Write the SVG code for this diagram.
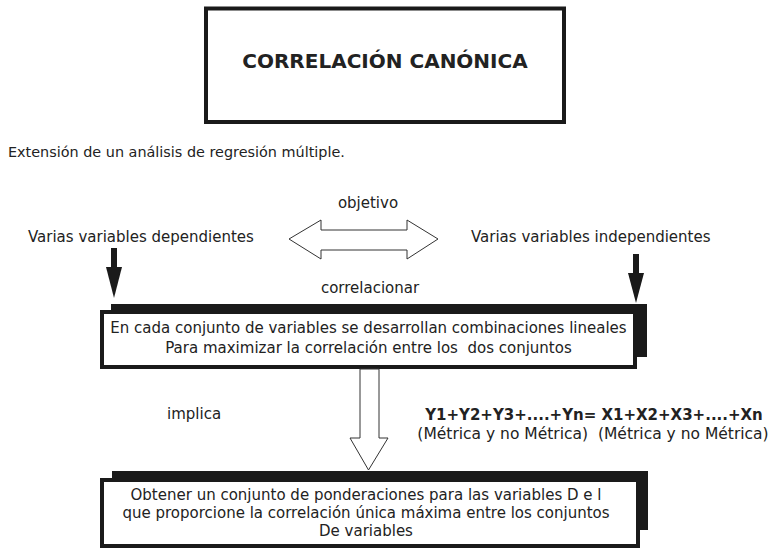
<svg xmlns="http://www.w3.org/2000/svg" width="770" height="549" viewBox="0 0 770 549">
<style>
text{font-family:"DejaVu Sans",Verdana,sans-serif;font-size:15px;fill:#222}
.b{font-weight:bold}
.m{text-anchor:middle}
.frame{fill:#fff;stroke:#1a1a1a;stroke-width:4}
.shadow{fill:#1a1a1a}
.hollow{fill:#fff;stroke:#333;stroke-width:1}
.solid{fill:#1a1a1a}
</style>
<rect width="770" height="549" fill="#fff"/>
<g id="title">
<rect class="frame" x="206" y="8.5" width="358" height="113.5"/>
<text class="b m" x="385" y="68" style="font-size:20px">CORRELACIÓN CANÓNICA</text>
</g>
<g id="intro">
<text x="8" y="157" style="font-size:14.4px">Extensión de un análisis de regresión múltiple.</text>
</g>
<g id="dependientes">
<text x="28" y="242">Varias variables dependientes</text>
</g>
<g id="independientes">
<text x="471" y="242">Varias variables independientes</text>
</g>
<g id="combinaciones">
<rect class="shadow" x="111" y="304" width="536" height="53"/>
<rect class="frame" x="102" y="312" width="533" height="55"/>
<text class="m" x="368.5" y="333">En cada conjunto de variables se desarrollan combinaciones lineales</text>
<text class="m" x="368.5" y="353" xml:space="preserve">Para maximizar la correlación entre los  dos conjuntos</text>
</g>
<g id="ecuacion">
<text class="b m" x="594" y="420">Y1+Y2+Y3+....+Yn= X1+X2+X3+....+Xn</text>
<text class="m" x="593" y="438.5" style="font-size:15.5px" xml:space="preserve">(Métrica y no Métrica)  (Métrica y no Métrica)</text>
</g>
<g id="ponderaciones">
<rect class="shadow" x="112" y="471" width="536" height="59"/>
<rect class="frame" x="102" y="480" width="536" height="66"/>
<text class="m" x="366" y="500">Obtener un conjunto de ponderaciones para las variables D e l</text>
<text class="m" x="366" y="518">que proporcione la correlación única máxima entre los conjuntos</text>
<text class="m" x="366" y="536">De variables</text>
</g>
<g id="connectors">
<polygon class="hollow" points="289,239 321,220 321,230 407,230 407,220 438,239 407,259 407,250 321,250 321,259"/>
<text class="m" x="368" y="208">objetivo</text>
<text class="m" x="370" y="293">correlacionar</text>
<rect class="solid" x="111" y="248" width="6" height="20"/>
<polygon class="solid" points="106,267 122,267 114,298"/>
<rect class="solid" x="633" y="254" width="6" height="20"/>
<polygon class="solid" points="628,273 644,273 636,303"/>
<polygon class="hollow" points="360,369 360,438 350,438 368.5,470 388,438 379,438 379,369"/>
<text x="167" y="419">implica</text>
</g>
</svg>
